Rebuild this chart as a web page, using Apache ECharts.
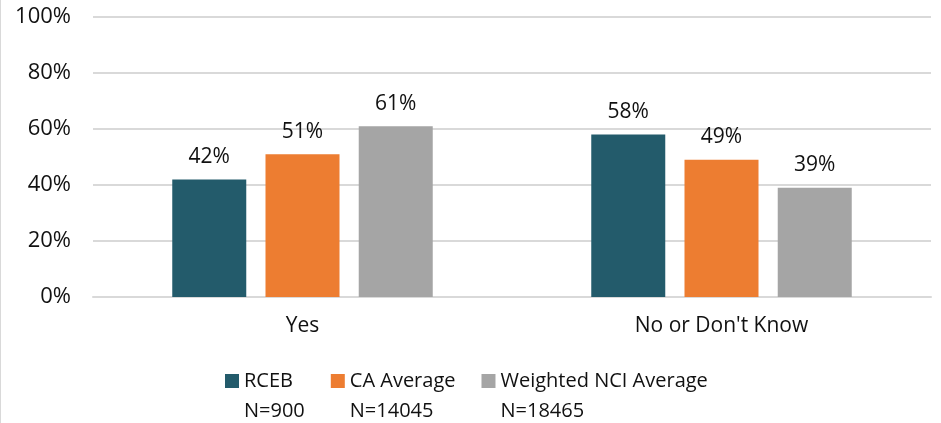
<!DOCTYPE html>
<html>
<head>
<meta charset="utf-8">
<script src="https://cdn.jsdelivr.net/npm/echarts@6/dist/echarts.min.js"></script>
<style>
	html,body{margin:0;padding:0;background:#fff;}
	#chart{width:940px;height:423px;border-left:1px solid #d9d9d9;}
</style>
</head>
<body>
<div id="chart"></div>
<script>
var categories = ['Yes', "No or Don't Know"];
var seriesNames = ['RCEB', 'CA Average', 'Weighted NCI Average'];
var seriesN = ['N=900', 'N=14045', 'N=18465'];
var rcebValues = [42, 58];
var caValues = [51, 49];
var nciValues = [61, 39];
var colors = ['#235B6B', '#ED7D31', '#A5A5A5'];

var font = '"Open Sans", "Noto Sans", sans-serif';
var textColor = '#111';

function makeSeries(i, data){
	return {
		name: seriesNames[i],
		type: 'bar',
		barWidth: 74,
		barGap: '26%',
		itemStyle: { color: colors[i] },
		label: {
			show: true,
			position: 'top',
			distance: 12,
			formatter: '{c}%',
			color: textColor,
			fontFamily: font,
			fontSize: 21
		},
		data: data
	};
}

var myChart = echarts.init(document.getElementById('chart'));
myChart.setOption({
	animation: false,
	grid: { left: 92, right: 10, top: 17, bottom: 126 },
	legend: {
		left: 219,
		top: 331,
		itemWidth: 14,
		itemHeight: 14,
		itemGap: 26,
		icon: 'rect',
		// empty first line so the square sits beside the series name, N= goes below
		formatter: function(name){
			return '\n' + name + '\n' + seriesN[seriesNames.indexOf(name)];
		},
		textStyle: {
			color: textColor,
			fontFamily: font,
			fontSize: 20,
			lineHeight: 30
		},
		data: seriesNames
	},
	xAxis: {
		type: 'category',
		data: categories,
		axisLine: { lineStyle: { color: '#d9d9d9', width: 2 } },
		axisTick: { show: false },
		axisLabel: { color: textColor, fontFamily: font, fontSize: 21, margin: 19 }
	},
	yAxis: {
		type: 'value',
		min: 0,
		max: 100,
		interval: 20,
		axisLine: { show: false },
		axisTick: { show: false },
		splitLine: { lineStyle: { color: '#d9d9d9', width: 2 } },
		axisLabel: { color: textColor, fontFamily: font, fontSize: 22, margin: 22, formatter: '{value}%' }
	},
	series: [
		makeSeries(0, rcebValues),
		makeSeries(1, caValues),
		makeSeries(2, nciValues)
	]
});
</script>
</body>
</html>
